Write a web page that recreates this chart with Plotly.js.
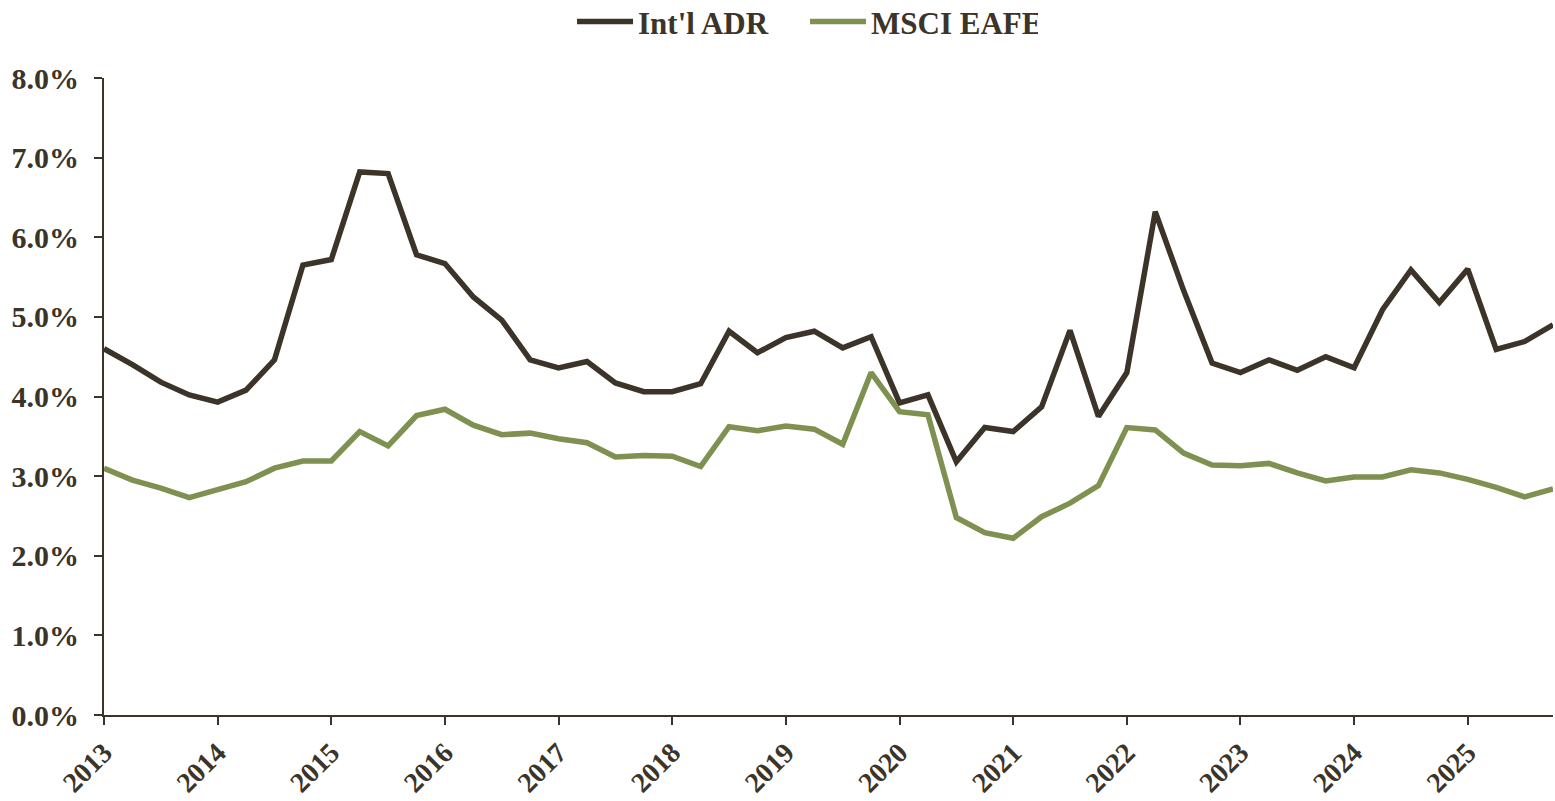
<!DOCTYPE html>
<html>
<head>
<meta charset="utf-8">
<script src="https://cdn.plot.ly/plotly-3.0.1.min.js"></script>
<style>html,body{margin:0;padding:0;background:#fff;}#chart{width:1555px;height:801px;}</style>
</head>
<body>
<div id="chart"></div>
<script>
// Quarterly observations, 2013 Q1 .. 2025 Q4
const years = [2013,2014,2015,2016,2017,2018,2019,2020,2021,2022,2023,2024,2025];
const quarterOffsets = [0, 0.25, 0.5, 0.75];
const seriesNames = ["Int'l ADR", "MSCI EAFE"];

const intlADR = [
  4.60, 4.40, 4.18, 4.02,
  3.93, 4.08, 4.46, 5.65,
  5.72, 6.82, 6.80, 5.78,
  5.67, 5.25, 4.96, 4.46,
  4.36, 4.44, 4.17, 4.06,
  4.06, 4.16, 4.82, 4.55,
  4.74, 4.82, 4.61, 4.75,
  3.92, 4.02, 3.18, 3.61,
  3.56, 3.87, 4.83, 3.75,
  4.30, 6.32, 5.33, 4.42,
  4.30, 4.46, 4.33, 4.50,
  4.36, 5.09, 5.59, 5.18,
  5.60, 4.59, 4.69, 4.90
];
const msciEAFE = [
  3.10, 2.95, 2.85, 2.73,
  2.83, 2.93, 3.10, 3.19,
  3.19, 3.56, 3.38, 3.76,
  3.84, 3.64, 3.52, 3.54,
  3.47, 3.42, 3.24, 3.26,
  3.25, 3.12, 3.62, 3.57,
  3.63, 3.59, 3.40, 4.30,
  3.81, 3.77, 2.48, 2.29,
  2.22, 2.49, 2.66, 2.88,
  3.61, 3.58, 3.29, 3.14,
  3.13, 3.16, 3.04, 2.94,
  2.99, 2.99, 3.08, 3.04,
  2.96, 2.86, 2.74, 2.84
];
const yTickVals = [0,1,2,3,4,5,6,7,8];
const yTickText = ["0.0%","1.0%","2.0%","3.0%","4.0%","5.0%","6.0%","7.0%","8.0%"];
const xTickText = years.map(String);

const xs = [];
years.forEach(y => quarterOffsets.forEach(q => xs.push(y + q)));

const dark = '#3c3428';
const green = '#7e9150';
const fontFam = '"Liberation Serif", "DejaVu Serif", serif';

const traces = [
  {x: xs, y: intlADR, name: seriesNames[0], type: 'scatter', mode: 'lines',
   line: {color: dark, width: 5.5}},
  {x: xs, y: msciEAFE, name: seriesNames[1], type: 'scatter', mode: 'lines',
   line: {color: green, width: 5.5}}
];

const layout = {
  width: 1555, height: 801,
  margin: {l: 104, r: 2, t: 78, b: 86, autoexpand: false},
  paper_bgcolor: '#fff', plot_bgcolor: '#fff',
  font: {family: fontFam, color: dark, size: 30, weight: 'bold'},
  showlegend: true,
  legend: {
    orientation: 'h', x: 0.323, xanchor: 'left', y: 1.088, yanchor: 'middle',
    font: {family: fontFam, size: 31, color: dark, weight: 'bold'},
    itemwidth: 56, entrywidth: 162, entrywidthmode: 'pixels',
    traceorder: 'normal', bgcolor: 'rgba(0,0,0,0)'
  },
  xaxis: {
    range: [2013, 2025.75], tickmode: 'array', tickvals: years, ticktext: xTickText,
    tickangle: -45, ticks: 'outside', ticklen: 8, tickwidth: 2, tickcolor: dark,
    showline: true, linecolor: dark, linewidth: 2, showgrid: false, zeroline: false,
    tickfont: {family: fontFam, size: 28, color: dark, weight: 'bold'}
  },
  yaxis: {
    range: [0, 8], tickmode: 'array', tickvals: yTickVals, ticktext: yTickText,
    ticks: 'outside', ticklen: 8, tickwidth: 2, tickcolor: dark, ticklabelstandoff: 9,
    showline: true, linecolor: dark, linewidth: 2, showgrid: false, zeroline: false,
    tickfont: {family: fontFam, size: 30, color: dark, weight: 'bold'}
  }
};

Plotly.newPlot('chart', traces, layout, {displayModeBar: false, staticPlot: true});
</script>
</body>
</html>
